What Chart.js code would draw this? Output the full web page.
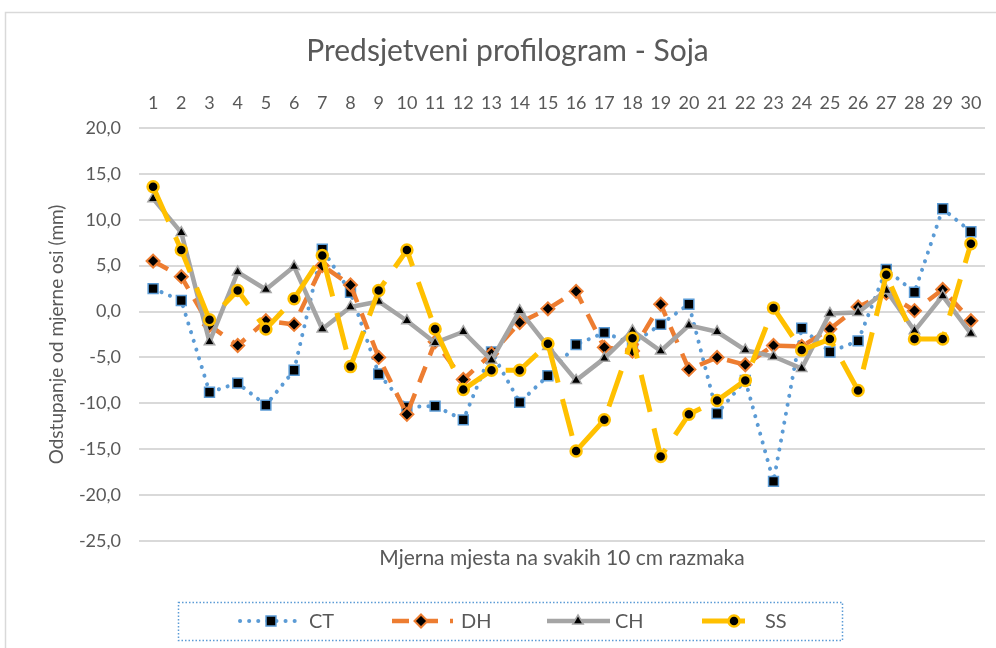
<!DOCTYPE html>
<html><head><meta charset="utf-8">
<script src="https://cdn.jsdelivr.net/npm/chart.js@4/dist/chart.umd.min.js"></script>
<style>html,body{margin:0;padding:0;background:#fff;overflow:hidden}#wrap{width:996px;height:648px;position:relative}</style>
</head><body><div id="wrap"><canvas id="c" width="996" height="648"></canvas></div>
<script>
const categories = ['1','2','3','4','5','6','7','8','9','10','11','12','13','14','15','16','17','18','19','20','21','22','23','24','25','26','27','28','29','30'];
const seriesNames = ['CT','DH','CH','SS'];
const ctValues = [2.5, 1.2, -8.8, -7.8, -10.2, -6.4, 6.8, 2.1, -6.8, -10.4, -10.3, -11.8, -4.4, -9.9, -7.0, -3.6, -2.3, -3.5, -1.4, 0.8, -11.1, -7.5, -18.5, -1.8, -4.4, -3.2, 4.6, 2.1, 11.2, 8.7];
const dhValues = [5.5, 3.8, -1.5, -3.7, -1.0, -1.4, 5.0, 2.9, -5.0, -11.2, -3.3, -7.4, -4.6, -1.2, 0.3, 2.2, -3.9, -4.3, 0.8, -6.3, -5.0, -5.8, -3.7, -3.8, -1.9, 0.5, 2.0, 0.1, 2.4, -1.0];
const chValues = [12.3, 8.6, -3.3, 4.3, 2.4, 4.9, -1.9, 0.5, 1.1, -1.0, -3.4, -2.2, -5.3, 0.1, -3.8, -7.5, -5.1, -2.1, -4.3, -1.5, -2.2, -4.2, -4.9, -6.2, -0.2, -0.1, 2.3, -2.1, 1.7, -2.4];
const ssValues = [13.6, 6.7, -0.9, 2.3, -1.9, 1.4, 6.1, -6.0, 2.3, 6.7, -1.9, -8.5, -6.4, -6.4, -3.5, -15.2, -11.8, -2.9, -15.8, -11.2, -9.7, -7.5, 0.4, -4.2, -3.0, -8.6, 4.0, -3.0, -3.0, 7.4];
const yTicks = [20, 15, 10, 5, 0, -5, -10, -15, -20, -25];

const FONT = 'Lato';
const TXT = '#595959';
const styles = [
  {color:'#5B9BD5', width:4, dash:[0.1,9], cap:'round', point:'rect', radius:7, pbw:1.5},
  {color:'#ED7D31', width:4.5, dash:[17,12], cap:'butt', point:'rectRot', radius:6.5, pbw:2},
  {color:'#A5A5A5', width:4.5, dash:[], cap:'butt', point:'triangle', radius:6, pbw:1.5},
  {color:'#FFC000', width:5, dash:[38,17], cap:'butt', point:'circle', radius:5.5, pbw:2.5}
];
const allValues = [ctValues, dhValues, chValues, ssValues];

const datasets = allValues.map((vals, i) => ({
  label: seriesNames[i],
  data: vals,
  xAxisID: 'x',
  borderColor: styles[i].color,
  borderWidth: styles[i].width,
  borderDash: styles[i].dash,
  borderCapStyle: styles[i].cap,
  borderJoinStyle: 'round',
  pointStyle: styles[i].point,
  pointRadius: styles[i].radius,
  pointBackgroundColor: '#000000',
  pointBorderColor: styles[i].color,
  pointBorderWidth: styles[i].pbw,
  tension: 0,
  fill: false,
  order: 4 - i
}));

function drawMarker(ctx, style, x, y, r) {
  ctx.beginPath();
  if (style === 'rect') { const s = r * Math.SQRT1_2; ctx.rect(x - s, y - s, 2*s, 2*s); }
  else if (style === 'rectRot') { ctx.moveTo(x, y - r); ctx.lineTo(x + r, y); ctx.lineTo(x, y + r); ctx.lineTo(x - r, y); ctx.closePath(); }
  else if (style === 'triangle') { ctx.moveTo(x, y - r); ctx.lineTo(x + r*0.87, y + r*0.5); ctx.lineTo(x - r*0.87, y + r*0.5); ctx.closePath(); }
  else { ctx.arc(x, y, r, 0, Math.PI*2); }
  ctx.fill(); ctx.stroke();
}

const decor = {
  id: 'decor',
  beforeDraw(chart) {
    const ctx = chart.ctx;
    ctx.save();
    ctx.fillStyle = '#fff'; ctx.fillRect(0,0,chart.width,chart.height);
    ctx.strokeStyle = '#D9D9D9'; ctx.lineWidth = 1.5;
    ctx.strokeRect(5.5, 12.5, 1100, 700);
    ctx.restore();
  },
  afterDraw(chart) {
    const ctx = chart.ctx;
    ctx.save();
    ctx.strokeStyle = '#5B9BD5'; ctx.lineWidth = 1.5; ctx.setLineDash([1.5,2]);
    ctx.strokeRect(178.5, 602.5, 664, 38);
    const cy = 621;
    const items = [
      {x0:240, x1:301, mx:271, tx:309},
      {x0:392, x1:453, mx:421, tx:461},
      {x0:547, x1:610, mx:578, tx:615},
      {x0:702, x1:745, mx:734, tx:765}
    ];
    ctx.font = '20px ' + FONT; ctx.textBaseline = 'middle'; ctx.textAlign = 'left';
    items.forEach((it, i) => {
      const st = styles[i];
      ctx.strokeStyle = st.color; ctx.lineWidth = st.width; ctx.lineCap = st.cap;
      ctx.setLineDash(i === 3 ? [] : st.dash);
      ctx.beginPath(); ctx.moveTo(it.x0, cy); ctx.lineTo(it.x1, cy); ctx.stroke();
      ctx.setLineDash([]); ctx.lineWidth = st.pbw; ctx.fillStyle = '#000';
      drawMarker(ctx, st.point, it.mx, cy, st.radius);
      ctx.fillStyle = TXT;
      ctx.fillText(seriesNames[i], it.tx, cy + 1);
    });
    ctx.restore();
  }
};

new Chart(document.getElementById('c'), {
  type: 'line',
  data: { labels: categories, datasets },
  plugins: [decor],
  options: {
    responsive: false,
    animation: false,
    devicePixelRatio: 1,
    layout: { padding: { left: 30, right: 11, top: 0, bottom: 69 } },
    plugins: {
      legend: { display: false },
      tooltip: { enabled: false },
      title: { display: true, text: 'Predsjetveni profilogram - Soja', color: TXT,
        font: { family: FONT, size: 30, weight: 'normal' }, padding: { top: 33, bottom: 10 } }
    },
    scales: {
      x: {
        type: 'category', position: 'top', offset: true,
        grid: { display: false, drawTicks: false }, border: { display: false },
        ticks: { color: TXT, font: { family: FONT, size: 18 }, padding: 14, maxRotation: 0, autoSkip: false },
        afterFit(s) { s.height = 49; }
      },
      x2: {
        type: 'category', position: 'bottom', labels: categories, offset: true,
        grid: { display: false, drawTicks: false }, border: { display: false },
        ticks: { display: false },
        title: { display: true, text: 'Mjerna mjesta na svakih 10 cm razmaka', color: TXT,
          font: { family: FONT, size: 21 }, padding: { top: 0, bottom: 8 } },
        afterFit(s) { s.height = 38; }
      },
      y: {
        min: -25, max: 20,
        afterBuildTicks(s) { s.ticks = yTicks.map(v => ({ value: v })); },
        grid: { color: '#D9D9D9', lineWidth: 2, drawTicks: false }, border: { display: false },
        ticks: { color: TXT, font: { family: FONT, size: 18 }, padding: 18,
          callback: v => v.toFixed(1).replace('.', ',') },
        title: { display: true, text: 'Odstupanje od mjerne osi (mm)', color: TXT,
          font: { family: FONT, size: 19 }, padding: { top: 15, bottom: 0 } },
        afterFit(s) { s.width = 109; }
      }
    }
  }
});
</script></body></html>
